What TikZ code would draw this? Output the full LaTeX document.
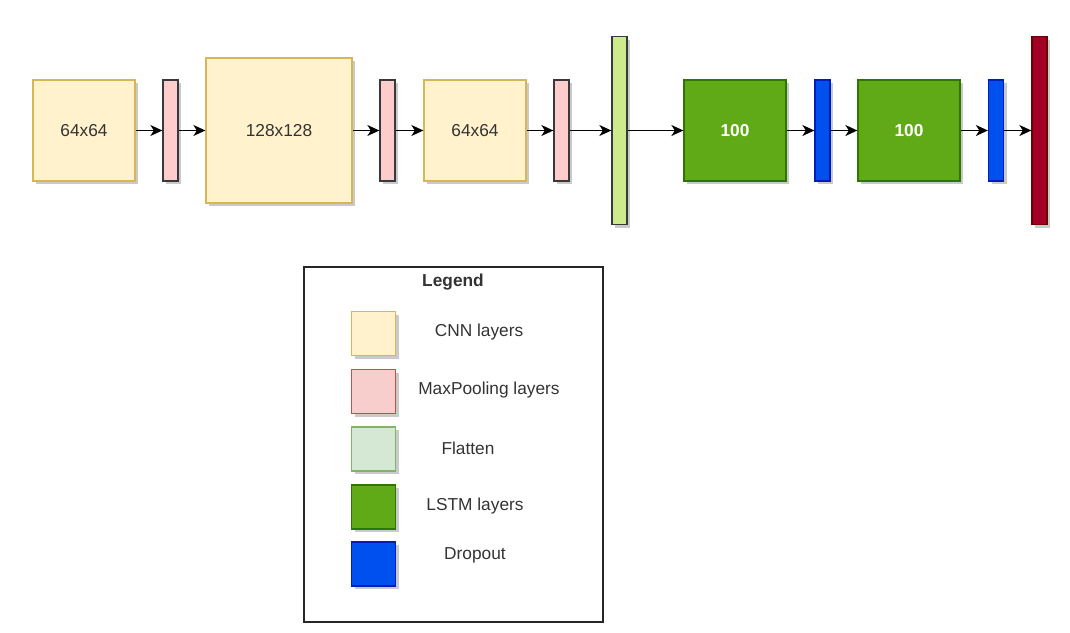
\documentclass[tikz,border=0pt]{standalone}
\usepackage{fontspec}
\setmainfont{Liberation Sans}
\usetikzlibrary{arrows.meta,shadows}

\definecolor{cnnfill}{HTML}{FFF2CC}
\definecolor{cnnline}{HTML}{D6B656}
\definecolor{poolfill}{HTML}{FFCCCC}
\definecolor{poolkey}{HTML}{F8CECC}
\definecolor{poolline}{HTML}{B85450}
\definecolor{flatfill}{HTML}{CDEB8B}
\definecolor{flatkey}{HTML}{D5E8D4}
\definecolor{flatline}{HTML}{82B366}
\definecolor{lstmfill}{HTML}{60A917}
\definecolor{lstmline}{HTML}{2D7600}
\definecolor{dropfill}{HTML}{0050EF}
\definecolor{dropline}{HTML}{001DBC}
\definecolor{outfill}{HTML}{A20025}
\definecolor{outline}{HTML}{6F0000}
\definecolor{darkline}{HTML}{36393D}

\begin{document}
\begin{tikzpicture}[x=1pt,y=-1pt,
    every node/.style={font=\fontsize{17.3}{20}\selectfont, text=black!80},
    layer/.style={draw, line width=1.3pt, inner sep=0pt,
        drop shadow={shadow xshift=3pt,shadow yshift=-3pt,fill=black!35,opacity=0.6}},
    cnn/.style={layer, fill=cnnfill, draw=cnnline, minimum width=102pt, minimum height=101pt},
    cnnbig/.style={cnn, minimum width=146pt, minimum height=145pt},
    pool/.style={layer, fill=poolfill, draw=darkline, minimum width=15pt, minimum height=101pt},
    flat/.style={layer, fill=flatfill, draw=darkline, minimum width=15pt, minimum height=188pt},
    lstm/.style={layer, fill=lstmfill, draw=lstmline, minimum width=102pt, minimum height=101pt,
        text=white, font=\fontsize{17.3}{20}\selectfont\bfseries},
    drop/.style={layer, fill=dropfill, draw=dropline, minimum width=15pt, minimum height=101pt},
    outlayer/.style={layer, fill=outfill, draw=outline, minimum width=15pt, minimum height=188pt},
    key/.style={layer, minimum width=44pt, minimum height=44pt},
    flow/.style={-{Stealth[length=12pt,width=11pt,inset=3.5pt]}, line width=1.5pt, black}
  ]
  \useasboundingbox (0,0) rectangle (1070,632);

  % network
  \node[cnn] (cnnA) at (84,130.5) {64x64};
  \node[pool] (poolA) at (170.5,130.5) {};
  \node[cnnbig] (cnnB) at (279,130.5) {128x128};
  \node[pool] (poolB) at (387.5,130.5) {};
  \node[cnn] (cnnC) at (475,130.5) {64x64};
  \node[pool] (poolC) at (561.5,130.5) {};
  \node[flat] (flatA) at (619.5,130.5) {};
  \node[lstm] (lstmA) at (735,130.5) {100};
  \node[drop] (dropA) at (822.5,130.5) {};
  \node[lstm] (lstmB) at (909,130.5) {100};
  \node[drop] (dropB) at (996,130.5) {};
  \node[outlayer] (outA) at (1039.5,130.5) {};

  \foreach \a/\b in {cnnA/poolA, poolA/cnnB, cnnB/poolB, poolB/cnnC, cnnC/poolC,
      poolC/flatA, flatA/lstmA, lstmA/dropA, dropA/lstmB, lstmB/dropB, dropB/outA}
    \draw[flow] (\a.east |- 0,130.5) -- (\b.west |- 0,130.5);

  % legend
  \node[draw=black!85, line width=1.3pt, minimum width=299pt, minimum height=355pt,
      inner sep=0pt] (legend) at (453.5,444.5) {};
  \node[font=\fontsize{17.3}{20}\selectfont\bfseries] (legendT) at (453,282) {Legend};

  \node[key, fill=cnnfill, draw=cnnline] (keyA) at (373.5,333.5) {};
  \node[key, fill=poolkey, draw=poolline] (keyB) at (373.5,391.5) {};
  \node[key, fill=flatkey, draw=flatline] (keyC) at (373.5,449) {};
  \node[key, fill=lstmfill, draw=lstmline] (keyD) at (373.5,507) {};
  \node[key, fill=dropfill, draw=dropline] (keyE) at (373.5,564) {};

  \node (labA) at (479,332.5) {CNN layers};
  \node (labB) at (489,390) {MaxPooling layers};
  \node (labC) at (468,448) {Flatten};
  \node (labD) at (475,506) {LSTM layers};
  \node (labE) at (475,555) {Dropout};
\end{tikzpicture}
\end{document}
